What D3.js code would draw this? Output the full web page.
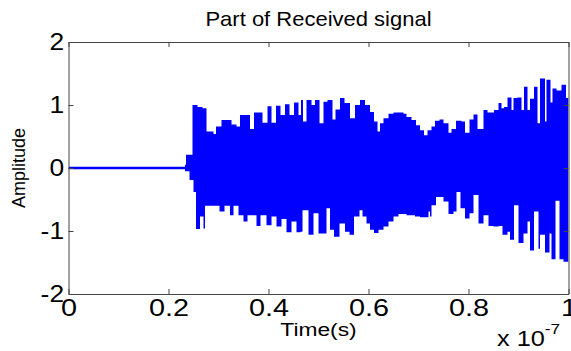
<!DOCTYPE html>
<html>
<head>
<meta charset="utf-8">
<script src="https://cdn.jsdelivr.net/npm/d3@7"></script>
<style>
  html, body { margin: 0; padding: 0; background: #fff; }
  svg text { font-family: "Liberation Sans", Arial, sans-serif; fill: #000; }
</style>
</head>
<body>
<div id="chart"></div>
<script>
// time axis in units of 1e-7 s
const xTicks = [0, 0.2, 0.4, 0.6, 0.8, 1];
const xTickLabels = ['0', '0.2', '0.4', '0.6', '0.8', '1'];
const yTicks = [-2, -1, 0, 1, 2];
const yTickLabels = ['-2', '-1', '0', '1', '2'];

// silent part before the pulse arrives
const flatTime = [0, 0.233];
const flatValue = [0, 0];

// upper envelope of the received signal (step values)
const upperTime = [0.233, 0.235, 0.248, 0.258, 0.268, 0.276, 0.290, 0.295, 0.306, 0.326,
  0.336, 0.343, 0.363, 0.371, 0.388, 0.398, 0.406, 0.415, 0.424, 0.433,
  0.442, 0.451, 0.460, 0.465, 0.469, 0.476, 0.486, 0.493, 0.502, 0.510,
  0.518, 0.528, 0.534, 0.543, 0.552, 0.563, 0.573, 0.583, 0.593, 0.603,
  0.611, 0.618, 0.623, 0.630, 0.640, 0.650, 0.670, 0.676, 0.686, 0.695,
  0.703, 0.711, 0.718, 0.726, 0.733, 0.742, 0.750, 0.760, 0.766, 0.775,
  0.786, 0.793, 0.802, 0.810, 0.818, 0.830, 0.838, 0.851, 0.860, 0.866,
  0.871, 0.878, 0.886, 0.890, 0.898, 0.906, 0.911, 0.918, 0.923, 0.931,
  0.938, 0.943, 0.953, 0.956, 0.964, 0.968, 0.976, 0.986, 0.995, 1.0];
const upperValue = [0.05, 0.21, 1.00, 0.97, 0.95, 0.58, 0.54, 0.66, 0.76, 0.69,
  0.66, 0.84, 0.62, 0.88, 0.72, 0.98, 0.72, 0.99, 0.84, 1.01,
  0.84, 1.04, 0.84, 1.08, 0.74, 1.08, 1.00, 1.08, 0.71, 1.05,
  1.08, 0.77, 0.93, 1.11, 1.03, 0.79, 1.00, 1.08, 1.00, 0.89,
  0.74, 0.58, 0.71, 0.79, 0.86, 0.88, 0.86, 0.81, 0.76, 0.68,
  0.60, 0.52, 0.60, 0.66, 0.75, 0.77, 0.71, 0.56, 0.62, 0.75,
  0.74, 0.56, 0.77, 0.85, 0.62, 0.92, 0.88, 0.92, 1.03, 0.95,
  0.97, 1.12, 0.92, 1.11, 1.12, 0.92, 1.29, 0.92, 1.10, 1.29,
  0.71, 1.42, 0.74, 1.40, 1.04, 1.26, 1.23, 1.32, 1.11, 1.11];

// lower envelope of the received signal (step values)
const lowerTime = [0.233, 0.242, 0.250, 0.255, 0.263, 0.270, 0.273, 0.302, 0.312, 0.323,
  0.330, 0.340, 0.350, 0.358, 0.376, 0.384, 0.396, 0.406, 0.416, 0.426,
  0.436, 0.446, 0.456, 0.464, 0.468, 0.480, 0.490, 0.500, 0.516, 0.523,
  0.531, 0.542, 0.553, 0.562, 0.571, 0.582, 0.588, 0.596, 0.603, 0.611,
  0.620, 0.630, 0.640, 0.650, 0.660, 0.676, 0.693, 0.703, 0.720, 0.723,
  0.726, 0.735, 0.750, 0.760, 0.770, 0.776, 0.784, 0.793, 0.802, 0.810,
  0.820, 0.830, 0.840, 0.850, 0.860, 0.868, 0.878, 0.883, 0.891, 0.900,
  0.910, 0.918, 0.923, 0.931, 0.940, 0.943, 0.953, 0.962, 0.966, 0.974,
  0.982, 0.990, 1.0];
const lowerValue = [-0.05, -0.19, -0.38, -0.97, -0.77, -0.96, -0.60, -0.69, -0.60, -0.75,
  -0.60, -0.75, -0.85, -0.75, -0.92, -0.75, -0.91, -0.77, -0.93, -0.81,
  -1.02, -0.85, -1.02, -1.01, -0.67, -1.06, -0.72, -1.04, -0.64, -0.98,
  -1.09, -0.88, -1.01, -1.06, -0.77, -0.67, -0.77, -0.88, -0.98, -1.03,
  -0.98, -0.93, -0.85, -0.77, -0.73, -0.75, -0.77, -0.78, -0.69, -0.77,
  -0.59, -0.46, -0.53, -0.73, -0.69, -0.38, -0.64, -0.80, -0.72, -0.43,
  -0.88, -0.75, -0.92, -0.93, -0.92, -1.06, -1.01, -1.14, -0.59, -1.19,
  -1.04, -0.85, -1.31, -0.69, -1.28, -1.06, -1.34, -1.04, -1.45, -0.52,
  -1.45, -1.49, -1.49];

const width = 571, height = 351;
const plot = { left: 68.5, right: 568.5, top: 42, bottom: 294 };

const svg = d3.select('#chart').append('svg')
  .attr('width', width)
  .attr('height', height);

const x = d3.scaleLinear().domain([0, 1]).range([plot.left, plot.right]);
const y = d3.scaleLinear().domain([-2, 2]).range([plot.bottom, plot.top]);

svg.append('clipPath').attr('id', 'clip')
  .append('rect')
  .attr('x', plot.left).attr('y', plot.top)
  .attr('width', plot.right - plot.left).attr('height', plot.bottom - plot.top);

const sig = svg.append('g').attr('clip-path', 'url(#clip)');

const upper = upperTime.map((t, i) => ({ t: t, v: upperValue[i] }));
const lower = lowerTime.map((t, i) => ({ t: t, v: lowerValue[i] }));
const flat = flatTime.map((t, i) => ({ t: t, v: flatValue[i] }));

const area = d3.area()
  .curve(d3.curveStepAfter)
  .x(d => x(d.t))
  .y0(y(0))
  .y1(d => y(d.v));

sig.append('path').datum(upper).attr('d', area).attr('fill', '#0000ff');
sig.append('path').datum(lower).attr('d', area).attr('fill', '#0000ff');

sig.append('path').datum(flat)
  .attr('d', d3.line().x(d => x(d.t)).y(d => y(d.v)))
  .attr('fill', 'none')
  .attr('stroke', '#0000ff')
  .attr('stroke-width', 2.5);

// axes box with inward ticks
const axisColor = '#444';
const bottomAxis = svg.append('g')
  .attr('transform', 'translate(0,' + plot.bottom + ')')
  .call(d3.axisBottom(x).tickValues(xTicks).tickFormat((d, i) => xTickLabels[i])
    .tickSizeInner(-5).tickSizeOuter(0).tickPadding(5));
const topAxis = svg.append('g')
  .attr('transform', 'translate(0,' + plot.top + ')')
  .call(d3.axisTop(x).tickValues(xTicks).tickFormat('').tickSizeInner(-5).tickSizeOuter(0));
const leftAxis = svg.append('g')
  .attr('transform', 'translate(' + plot.left + ',0)')
  .call(d3.axisLeft(y).tickValues(yTicks).tickFormat((d, i) => yTickLabels[i])
    .tickSizeInner(-5).tickSizeOuter(0).tickPadding(4));
const rightAxis = svg.append('g')
  .attr('transform', 'translate(' + plot.right + ',0)')
  .call(d3.axisRight(y).tickValues(yTicks).tickFormat('').tickSizeInner(-5).tickSizeOuter(0));

[bottomAxis, topAxis, leftAxis, rightAxis].forEach(g => {
  g.selectAll('path, line').attr('stroke', axisColor);
  g.selectAll('text').style('font-size', '24px').attr('fill', '#000');
});
bottomAxis.selectAll('text').attr('dy', '0.71em').attr('transform', 'scale(1.2,1)');
leftAxis.selectAll('text').attr('transform', 'scale(1.1,1)');

svg.append('text')
  .attr('transform', 'translate(' + (plot.left + plot.right) / 2 + ',26) scale(1.1,1)')
  .attr('text-anchor', 'middle')
  .style('font-size', '20px')
  .text('Part of Received signal');

svg.append('text')
  .attr('transform', 'translate(' + (plot.left + plot.right) / 2 + ',336) scale(1.2,1)')
  .attr('text-anchor', 'middle')
  .style('font-size', '19px')
  .text('Time(s)');

svg.append('text')
  .attr('transform', 'translate(25,' + y(0) + ') rotate(-90)')
  .attr('text-anchor', 'middle')
  .style('font-size', '18px')
  .text('Amplitude');

const mult = svg.append('text')
  .attr('transform', 'translate(497,346) scale(1.15,1)')
  .style('font-size', '22px');
mult.append('tspan').text('x 10');
mult.append('tspan').attr('dy', -12).style('font-size', '15px').text('-7');
</script>
</body>
</html>
